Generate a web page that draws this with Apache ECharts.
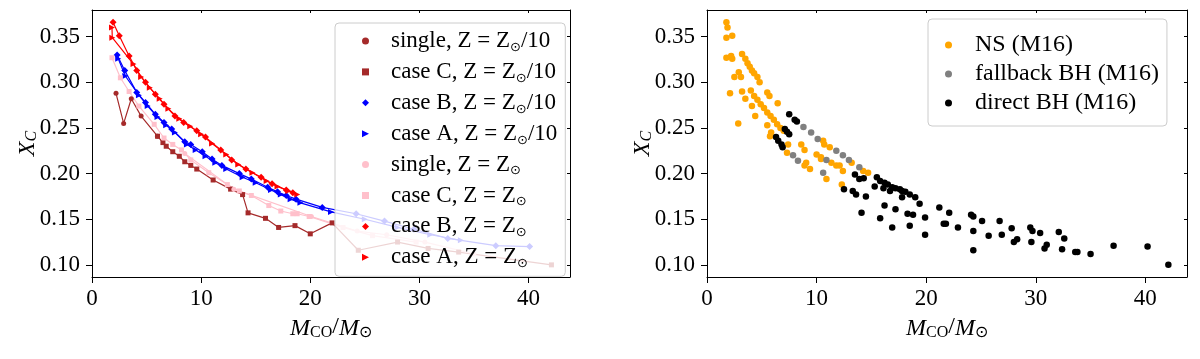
<!DOCTYPE html>
<html><head><meta charset="utf-8">
<script src="https://cdn.jsdelivr.net/npm/echarts@6/dist/echarts.min.js"></script>
<style>html,body{margin:0;padding:0;background:#fff}#c{width:1200px;height:359px}</style>
</head><body><div id="c"></div><script>
// ---- data (x = M_CO/M_sun, y = X_C) ----
const xTicks = [0, 10, 20, 30, 40];
const yTicks = [0.10, 0.15, 0.20, 0.25, 0.30, 0.35];

const singleLow = [[2.2,0.288],[2.9,0.255],[3.6,0.282],[4.5,0.263],[6.0,0.241]];
const caseCLow = [[6.0,0.241],[6.5,0.234],[6.8,0.230],[7.4,0.224],[8.0,0.219],[8.5,0.213],[9.05,0.209],[9.6,0.205],[11.1,0.193],[12.7,0.183],[13.8,0.177],[14.3,0.157],[15.9,0.151],[17.1,0.141],[18.6,0.143],[20.0,0.134],[22.0,0.146],[24.4,0.116],[28.0,0.125],[30.8,0.118],[33.6,0.114],[42.1,0.100]];
const caseBLow = [[2.3,0.330],[3.0,0.313],[4.1,0.289],[4.9,0.278],[5.8,0.265],[6.6,0.256],[7.3,0.249],[8.5,0.235],[9.05,0.232],[10.1,0.224],[11.0,0.216],[11.9,0.209],[13.5,0.200],[14.6,0.194],[16.1,0.185],[17.0,0.180],[17.8,0.176],[18.7,0.172],[21.1,0.163],[24.2,0.156],[26.8,0.148],[29.5,0.139],[32.6,0.129],[37.0,0.121],[40.1,0.120]];
const caseALow = [[2.4,0.326],[3.05,0.307],[4.3,0.286],[5.1,0.274],[6.0,0.262],[6.8,0.253],[7.6,0.245],[8.7,0.232],[9.5,0.226],[10.4,0.219],[11.3,0.212],[12.3,0.205],[13.8,0.196],[15.0,0.190],[16.4,0.182],[17.3,0.177],[18.2,0.172],[19.1,0.168],[21.9,0.158],[25.0,0.150],[28.0,0.141],[31.0,0.133],[33.8,0.127]];
const singleSun = [[8.5,0.222],[13.0,0.183],[20.1,0.153],[24.3,0.137],[27.0,0.133],[30.5,0.125],[35.0,0.112]];
const caseCSun = [[1.83,0.327],[2.6,0.305],[3.4,0.290],[4.3,0.274],[5.7,0.254],[6.6,0.239],[7.4,0.232],[8.2,0.226],[9.05,0.215],[10.7,0.201],[12.4,0.188],[13.5,0.181],[14.6,0.176],[16.2,0.165],[17.3,0.159],[18.4,0.156],[18.8,0.156],[19.9,0.153],[23.0,0.141],[25.7,0.132],[29.7,0.125]];
const caseBSun = [[1.93,0.366],[2.5,0.351],[3.4,0.329],[4.1,0.313],[4.9,0.300],[5.8,0.287],[6.6,0.276],[7.6,0.263],[8.4,0.256],[9.6,0.247],[10.4,0.240],[11.8,0.226],[12.8,0.215],[14.1,0.205],[15.5,0.196],[16.5,0.189],[17.8,0.182],[18.4,0.179]];
const caseASun = [[1.83,0.360],[1.86,0.349],[3.8,0.320],[4.5,0.306],[5.3,0.294],[6.2,0.282],[7.0,0.271],[8.0,0.260],[9.0,0.252],[10.0,0.243],[11.0,0.233],[12.3,0.221],[13.4,0.210],[14.7,0.201],[16.0,0.192],[17.0,0.186],[18.0,0.181],[18.8,0.177]];

const nsM16 = [[1.77,0.366],[1.87,0.360],[1.77,0.349],[2.3,0.351],[1.77,0.327],[2.2,0.329],[2.3,0.326],[2.1,0.288],[2.5,0.306],[2.9,0.311],[3.1,0.306],[2.85,0.255],
 [3.2,0.331],[3.5,0.326],[3.7,0.321],[3.9,0.317],[4.1,0.313],[4.3,0.310],[4.6,0.306],[4.8,0.300],[5.5,0.289],[5.7,0.285],[6.45,0.277],
 [4.0,0.291],[4.3,0.285],[4.6,0.281],[4.9,0.276],[5.2,0.272],[5.5,0.267],[5.8,0.263],[6.1,0.259],[6.4,0.254],[6.7,0.250],[7.0,0.247],
 [3.2,0.290],[3.5,0.282],[4.1,0.274],[4.4,0.263],[5.5,0.253],[5.75,0.241],[5.85,0.245],[7.3,0.223],[7.4,0.232],[8.6,0.232],[8.9,0.226],[10.0,0.221],[10.4,0.216],[9.05,0.212],[8.9,0.209],[9.4,0.205],[10.9,0.194],[12.3,0.188],
 [10.6,0.236],[10.7,0.232],[11.2,0.229],[13.2,0.212],[14.25,0.203],[14.7,0.201],
 [10.4,0.218],[11.35,0.212],[11.8,0.209],[12.1,0.209],[12.4,0.203]];
const fallbackM16 = [[7.85,0.220],[8.3,0.214],[8.8,0.251],[9.5,0.245],[10.1,0.238],[10.6,0.201],[10.9,0.215],[11.8,0.225],[12.4,0.220],[12.95,0.215],[13.9,0.207]];
const directM16 = [[7.5,0.265],[8.0,0.259],[8.2,0.257],[7.1,0.249],[7.3,0.246],[7.5,0.243],[6.3,0.240],[6.5,0.236],[6.8,0.232],[6.9,0.229],
 [13.5,0.199],[13.9,0.194],[14.3,0.195],[15.5,0.196],[15.8,0.192],[16.2,0.190],[16.5,0.188],[16.9,0.185],[17.2,0.184],[17.6,0.183],[17.8,0.181],[18.1,0.180],[18.5,0.177],[19.0,0.174],
 [15.3,0.186],[16.1,0.184],[16.7,0.181],[17.8,0.174],[12.5,0.183],[13.3,0.181],[13.6,0.177],[14.5,0.175],[14.1,0.157],[16.2,0.165],[15.8,0.151],[17.2,0.161],[16.9,0.141],
 [18.3,0.156],[18.8,0.155],[18.5,0.143],[19.4,0.167],[19.9,0.152],[19.9,0.133],[21.2,0.163],[22.1,0.157],[21.6,0.145],[21.8,0.145],[22.9,0.141],
 [24.1,0.155],[24.3,0.153],[24.3,0.137],[24.3,0.116],[25.1,0.148],[25.7,0.132],[26.7,0.148],[26.9,0.133],[27.8,0.140],[28.0,0.125],[28.3,0.128],
 [29.5,0.141],[29.7,0.137],[29.6,0.125],[30.4,0.135],[30.8,0.118],[31.0,0.122],[32.1,0.136],[32.6,0.129],[32.4,0.117],[33.6,0.114],[33.8,0.114],
 [35.0,0.112],[37.1,0.121],[40.2,0.120],[42.1,0.100]];

// ---- styling ----
const FONT = "'Liberation Serif','Times New Roman',serif";
const X_MIN = 0, X_MAX = 43.8, Y_MIN = 0.0867, Y_MAX = 0.3793;
const TRI = 'path://M0,0L10,5L0,10Z';

const leftSeriesDef = [
  {name:'single, Z = Z⊙/10', data:singleLow, color:'#a52a2a', symbol:'circle', size:5},
  {name:'case C, Z = Z⊙/10', data:caseCLow, color:'#a52a2a', symbol:'rect', size:5},
  {name:'case B, Z = Z⊙/10', data:caseBLow, color:'#0000ff', symbol:'diamond', size:7},
  {name:'case A, Z = Z⊙/10', data:caseALow, color:'#0000ff', symbol:TRI, size:6},
  {name:'single, Z = Z⊙', data:singleSun, color:'#ffc0cb', symbol:'circle', size:5},
  {name:'case C, Z = Z⊙', data:caseCSun, color:'#ffc0cb', symbol:'rect', size:5},
  {name:'case B, Z = Z⊙', data:caseBSun, color:'#ff0000', symbol:'diamond', size:7},
  {name:'case A, Z = Z⊙', data:caseASun, color:'#ff0000', symbol:TRI, size:6}
];
const rightSeriesDef = [
  {name:'NS (M16)', data:nsM16, color:'#ffa500'},
  {name:'fallback BH (M16)', data:fallbackM16, color:'#808080'},
  {name:'direct BH (M16)', data:directM16, color:'#000000'}
];

const grids = [
  {left:92, top:10, width:478, height:267},
  {left:707, top:10, width:480, height:267}
];
const TICK_FS = 23;

function mainX(gi){
  return {type:'value', gridIndex:gi, min:X_MIN, max:X_MAX, interval:10, position:'bottom',
    axisLine:{show:true, onZero:false, lineStyle:{color:'#000', width:1}},
    axisTick:{show:true, length:6, lineStyle:{color:'#000'}},
    splitLine:{show:false},
    axisLabel:{show:true, color:'#000', fontFamily:FONT, fontSize:TICK_FS, margin:10, showMaxLabel:false},
    name:'{i|M}{s|CO}/{i|M}{s|⊙}', nameLocation:'middle', nameGap:36,
    nameTextStyle:{color:'#000', fontFamily:FONT, fontSize:24,
      rich:{i:{fontStyle:'italic', fontFamily:FONT, fontSize:24, color:'#000', lineHeight:27, verticalAlign:'bottom'},
            s:{fontFamily:FONT, fontSize:16, color:'#000', lineHeight:18, verticalAlign:'bottom'}}}
  };
}
function frameX(gi){
  return {type:'value', gridIndex:gi, min:X_MIN, max:X_MAX, interval:10, position:'top',
    axisLine:{show:true, onZero:false, lineStyle:{color:'#000', width:1}},
    axisTick:{show:true, inside:true, length:3, lineStyle:{color:'#000'}},
    splitLine:{show:false}, axisLabel:{show:false}};
}
function mainY(gi){
  return {type:'value', gridIndex:gi, min:Y_MIN, max:Y_MAX, splitNumber:5, position:'left',
    axisLine:{show:true, onZero:false, lineStyle:{color:'#000', width:1}},
    axisTick:{show:true, length:6, lineStyle:{color:'#000'}},
    splitLine:{show:false},
    axisLabel:{show:true, color:'#000', fontFamily:FONT, fontSize:TICK_FS, margin:12,
      showMinLabel:false, showMaxLabel:false,
      formatter:v => (yTicks.some(t => Math.abs(t - v) < 1e-6) ? v.toFixed(2) : '')},
    name:'{i|X}{s|C}', nameLocation:'middle', nameGap:52, nameRotate:90, nameMoveOverlap:false,
    nameTextStyle:{color:'#000', fontFamily:FONT, fontSize:24,
      rich:{i:{fontStyle:'italic', fontFamily:FONT, fontSize:24, color:'#000', lineHeight:26, verticalAlign:'bottom'},
            s:{fontStyle:'italic', fontFamily:FONT, fontSize:16, color:'#000', lineHeight:17, verticalAlign:'bottom'}}}
  };
}
function frameY(gi){
  return {type:'value', gridIndex:gi, min:Y_MIN, max:Y_MAX, splitNumber:5, position:'right',
    axisLine:{show:true, onZero:false, lineStyle:{color:'#000', width:1}},
    axisTick:{show:true, inside:true, length:3, lineStyle:{color:'#000'}},
    splitLine:{show:false}, axisLabel:{show:false}};
}

const series = [];
leftSeriesDef.forEach(d => series.push({
  name:d.name, type:'line', xAxisIndex:0, yAxisIndex:0, data:d.data,
  symbol:d.symbol, symbolSize:d.size, showSymbol:true, animation:false,
  itemStyle:{color:d.color}, lineStyle:{color:d.color, width:1.2}, z:2
}));
rightSeriesDef.forEach(d => series.push({
  name:d.name, type:'scatter', xAxisIndex:2, yAxisIndex:2, data:d.data,
  symbol:'circle', symbolSize:6.5, animation:false, itemStyle:{color:d.color, opacity:1}
}));

const legendText = {color:'#000', fontFamily:FONT, fontSize:23, lineHeight:26, padding:[0,0,0,17],
  rich:{s:{fontFamily:'DejaVu Sans', fontSize:13, color:'#000', lineHeight:14, verticalAlign:'bottom'}}};

const option = {
  backgroundColor:'#fff',
  animation:false,
  grid:grids,
  xAxis:[mainX(0), frameX(0), mainX(1), frameX(1)],
  yAxis:[mainY(0), frameY(0), mainY(1), frameY(1)],
  legend:[
    {orient:'vertical', left:335, top:23, itemGap:4.9, itemWidth:7, itemHeight:7,
     padding:[5,8,6,27], backgroundColor:'rgba(255,255,255,0.8)', borderColor:'#cccccc', borderWidth:1, borderRadius:4,
     data:leftSeriesDef.map(d => ({name:d.name, icon:d.symbol})),
     formatter:n => n.replace('⊙','{s|⊙}'), textStyle:legendText, selectedMode:false},
    {orient:'vertical', left:928, top:19, itemGap:3, itemWidth:7, itemHeight:7,
     padding:[13,8,10,17], backgroundColor:'rgba(255,255,255,0.8)', borderColor:'#cccccc', borderWidth:1, borderRadius:4,
     data:rightSeriesDef.map(d => ({name:d.name, icon:'circle'})),
     textStyle:{color:'#000', fontFamily:FONT, fontSize:24, lineHeight:26, padding:[0,0,0,18]}, selectedMode:false}
  ],
  series:series
};
const chart = echarts.init(document.getElementById('c'), null, {renderer:'canvas'});
chart.setOption(option);
</script></body></html>
